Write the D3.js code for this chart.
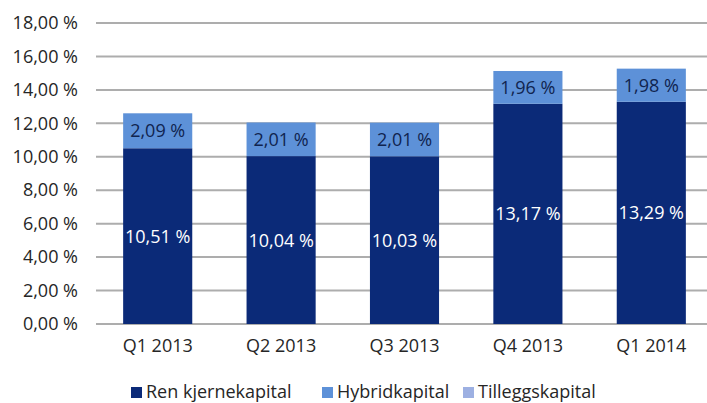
<!DOCTYPE html>
<html><head><meta charset="utf-8">
<script src="https://cdn.jsdelivr.net/npm/d3@7"></script>
<style>
html,body{margin:0;padding:0;background:#fff;}
svg{display:block;font-family:"Open Sans",Lato,sans-serif;}
</style></head>
<body><svg id="c" width="707" height="403"></svg>
<script>
const categories = ["Q1 2013","Q2 2013","Q3 2013","Q4 2013","Q1 2014"];
const renKjerne = [10.51,10.04,10.03,13.17,13.29];
const hybrid = [2.09,2.01,2.01,1.96,1.98];
const tillegg = [0,0,0,0,0];
const yTicks = [0,2,4,6,8,10,12,14,16,18];
const seriesNames = ["Ren kjernekapital","Hybridkapital","Tilleggskapital"];
const colors = ["#0b2a78","#5d91d8","#9db0e2"];
const labelColors = ["#ffffff","#10244f","#10244f"];
const FS = 18;

const svg = d3.select("#c");
const x = d3.scaleBand().domain(categories).range([96, 713]).paddingInner(0.44).paddingOuter(0.22);
const y = d3.scaleLinear().domain([0,18]).range([324, 23]);
const fmt = v => v.toFixed(2).replace(".", ",") + " %";

// grid
svg.append("g").selectAll("line").data(yTicks).join("line")
  .attr("x1", 96).attr("x2", 707)
  .attr("y1", d => y(d)).attr("y2", d => y(d))
  .attr("stroke", "#adadad").attr("stroke-width", 2);

// y labels
const yAxis = d3.axisLeft(y).tickValues(yTicks).tickSize(0).tickPadding(0).tickFormat(fmt);
const ga = svg.append("g").attr("transform","translate(78,0)").call(yAxis);
ga.select(".domain").remove();
ga.selectAll("text").attr("font-size", FS).attr("fill", "#262626").attr("font-family","'Open Sans',sans-serif");

// x labels
const xAxis = d3.axisBottom(x).tickSize(0).tickPadding(0);
const gx = svg.append("g").attr("transform","translate(0,339)").call(xAxis);
gx.select(".domain").remove();
gx.selectAll("text").attr("font-size", FS).attr("fill", "#262626").attr("font-family","'Open Sans',sans-serif");

// stacks
const rows = categories.map((c,i)=>({cat:c, s0:renKjerne[i], s1:hybrid[i], s2:tillegg[i]}));
const stack = d3.stack().keys(["s0","s1","s2"])(rows);
stack.forEach((layer, li) => {
  const g = svg.append("g");
  layer.forEach(d => {
    const v = d[1]-d[0];
    if (v <= 0) return;
    g.append("rect")
      .attr("x", x(d.data.cat)).attr("width", x.bandwidth())
      .attr("y", y(d[1])).attr("height", y(d[0]) - y(d[1]))
      .attr("fill", colors[li]);
    g.append("text")
      .attr("x", x(d.data.cat) + x.bandwidth()/2)
      .attr("y", (y(d[0]) + y(d[1]))/2)
      .attr("dy", "0.36em")
      .attr("text-anchor","middle")
      .attr("font-size", FS)
      .attr("fill", labelColors[li])
      .text(fmt(v));
  });
});

// legend
const legX = [131, 322, 463];
const lg = svg.append("g");
seriesNames.forEach((n,i)=>{
  lg.append("rect").attr("x", legX[i]).attr("y", 387).attr("width", 11).attr("height", 11).attr("fill", colors[i]);
  lg.append("text").attr("x", legX[i]+15).attr("y", 398).attr("font-size", FS).attr("fill","#262626").text(n);
});
</script></body></html>
